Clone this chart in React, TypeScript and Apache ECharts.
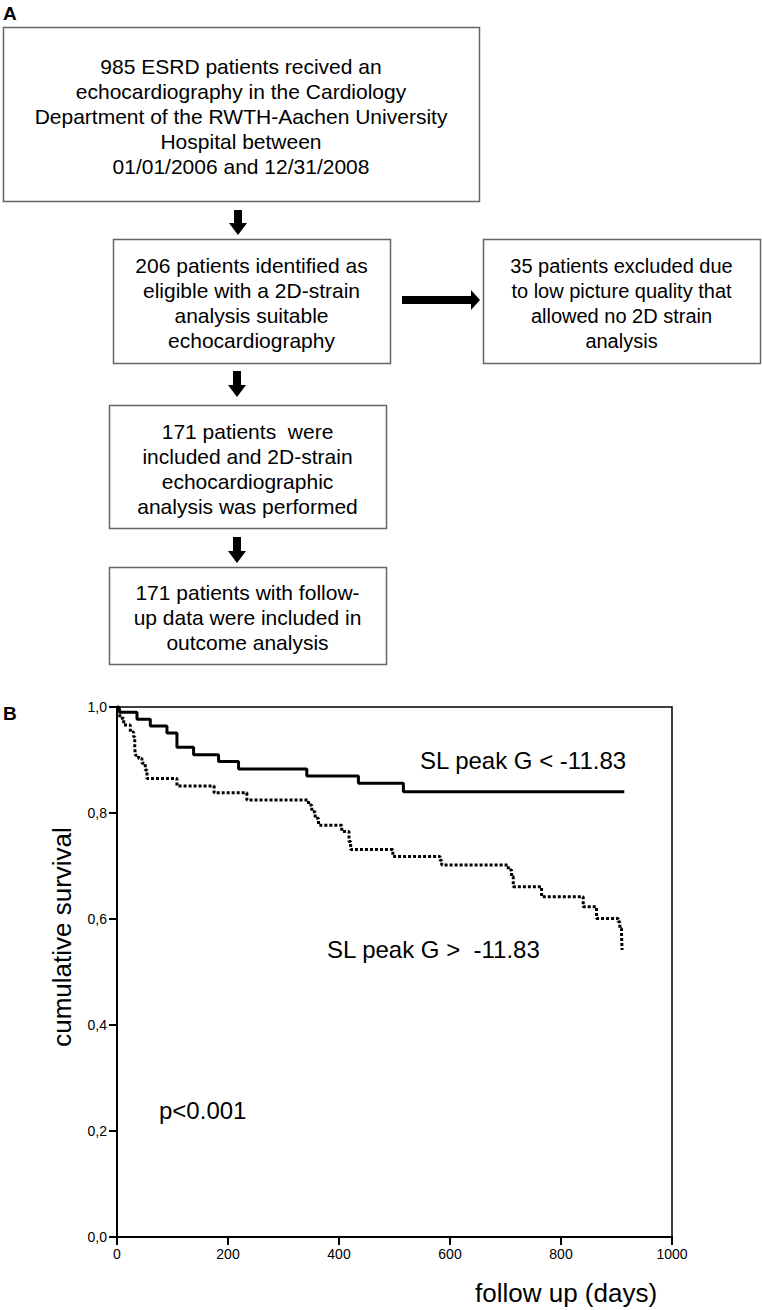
import React, { useEffect, useRef } from "react";
import * as echarts from "echarts";

// ---- Data ----
const xTicks = [0, 200, 400, 600, 800, 1000];
const yTicks = [0, 0.2, 0.4, 0.6, 0.8, 1.0];

// Kaplan-Meier steps: [day, survival]
const groupLowDays = [0, 4, 36, 60, 90, 108, 138, 183, 219, 342, 435, 516, 914];
const groupLowSurv = [1.0, 0.99, 0.977, 0.964, 0.951, 0.924, 0.91, 0.897, 0.883, 0.87, 0.856, 0.84, 0.84];

const groupHighDays = [0, 3, 5, 12, 24, 30, 32, 33, 39, 45, 51, 54, 108, 175, 234, 345, 351, 357, 363, 405, 418, 421, 497, 582, 585, 705, 711, 714, 765, 840, 864, 903, 906, 909, 910];
const groupHighSurv = [1.0, 0.994, 0.979, 0.966, 0.953, 0.944, 0.925, 0.909, 0.903, 0.894, 0.881, 0.865, 0.851, 0.838, 0.8245, 0.815, 0.8025, 0.79, 0.777, 0.765, 0.746, 0.731, 0.718, 0.711, 0.702, 0.6925, 0.68, 0.661, 0.642, 0.623, 0.601, 0.595, 0.582, 0.573, 0.5415];

const labelLow = "SL peak G < -11.83";
const labelHigh = "SL peak G >  -11.83";
const pValue = "p<0.001";
const yTitle = "cumulative survival";
const xTitle = "follow up (days)";

const box1Lines = ["985 ESRD patients recived an", "echocardiography in the Cardiology", "Department of the RWTH-Aachen University", "Hospital between", "01/01/2006 and 12/31/2008"];
const box2Lines = ["206 patients identified as", "eligible with a 2D-strain", "analysis suitable", "echocardiography"];
const box3Lines = ["35 patients excluded due", "to low picture quality that", "allowed no 2D strain", "analysis"];
const box4Lines = ["171 patients  were", "included and 2D-strain", "echocardiographic", "analysis was performed"];
const box5Lines = ["171 patients with follow-", "up data were included in", "outcome analysis"];

const FONT = "'Liberation Sans', Arial, Helvetica, sans-serif";

function boxEls(x: number, y: number, w: number, h: number, lines: string[], fs = 21) {
  return [
    {
      type: "rect",
      shape: { x: x + 0.5, y: y + 0.5, width: w, height: h },
      style: { fill: "#fff", stroke: "#666", lineWidth: 1.5 },
      z: 1,
    },
    {
      type: "text",
      x: x + w / 2,
      y: y + h / 2 + 2,
      style: {
        text: lines.join("\n"),
        font: `${fs}px ${FONT}`,
        lineHeight: 25,
        fill: "#000",
        align: "center",
        verticalAlign: "middle",
      },
      z: 2,
    },
  ];
}

function downArrow(cx: number, y0: number, y1: number) {
  const s = 4, hw = 9, hh = 12;
  return {
    type: "polygon",
    shape: {
      points: [
        [cx - s, y0], [cx + s, y0], [cx + s, y1 - hh], [cx + hw, y1 - hh],
        [cx, y1], [cx - hw, y1 - hh], [cx - s, y1 - hh],
      ],
    },
    style: { fill: "#000" },
  };
}

function rightArrow(cy: number, x0: number, x1: number) {
  const s = 4, hw = 10, hl = 9;
  return {
    type: "polygon",
    shape: {
      points: [
        [x0, cy - s], [x1 - hl, cy - s], [x1 - hl, cy - hw], [x1, cy],
        [x1 - hl, cy + hw], [x1 - hl, cy + s], [x0, cy + s],
      ],
    },
    style: { fill: "#000" },
  };
}

export default function App() {
  const ref = useRef<HTMLDivElement>(null);
  useEffect(() => {
    document.body.style.margin = "0";
    const chart = echarts.init(ref.current!, undefined, { renderer: "svg" });
    const low = groupLowDays.map((d, i) => [d, groupLowSurv[i]]);
    const high = groupHighDays.map((d, i) => [d, groupHighSurv[i]]);
    chart.setOption({
      animation: false,
      backgroundColor: "#fff",
      textStyle: { fontFamily: FONT },
      grid: {
        left: 117,
        top: 707,
        width: 555,
        height: 530,
        show: true,
        borderColor: "#000",
        borderWidth: 1.5,
        backgroundColor: "transparent",
      },
      xAxis: {
        type: "value",
        min: xTicks[0],
        max: xTicks[xTicks.length - 1],
        interval: 200,
        splitLine: { show: false },
        axisLine: { show: true, onZero: false, lineStyle: { color: "#000", width: 2 } },
        axisTick: { show: true, length: 8, lineStyle: { color: "#000", width: 2 } },
        axisLabel: {
          color: "#000",
          fontSize: 14,
          fontFamily: FONT,
          margin: 10,
          formatter: (v: number) => String(v),
        },
      },
      yAxis: {
        type: "value",
        min: yTicks[0],
        max: yTicks[yTicks.length - 1],
        interval: 0.2,
        splitLine: { show: false },
        axisLine: { show: true, onZero: false, lineStyle: { color: "#000", width: 2 } },
        axisTick: { show: true, length: 8, lineStyle: { color: "#000", width: 2 } },
        axisLabel: {
          color: "#000",
          fontSize: 14,
          fontFamily: FONT,
          margin: 10,
          formatter: (v: number) => v.toFixed(1).replace(".", ","),
        },
      },
      series: [
        {
          type: "line",
          name: labelLow,
          data: low,
          step: "end",
          showSymbol: false,
          lineStyle: { color: "#000", width: 3 },
          z: 3,
        },
        {
          type: "line",
          name: labelHigh,
          data: high,
          step: "end",
          showSymbol: false,
          lineStyle: { color: "#000", width: 3, type: [3, 2], cap: "butt" },
          z: 3,
        },
      ],
      graphic: [
        {
          type: "text",
          x: 3,
          y: 4,
          style: { text: "A", font: `bold 19px ${FONT}`, fill: "#000" },
        },
        {
          type: "text",
          x: 3,
          y: 713,
          style: { text: "B", font: `bold 19px ${FONT}`, fill: "#000", verticalAlign: "middle" },
        },
        ...boxEls(3, 27, 476, 174, box1Lines),
        downArrow(238, 210, 235),
        ...boxEls(113, 239, 277, 124, box2Lines),
        rightArrow(300, 402, 480),
        ...boxEls(483, 239, 277, 124, box3Lines, 20),
        downArrow(237, 371, 397),
        ...boxEls(109, 405, 277, 123, box4Lines),
        downArrow(237, 537, 563),
        ...boxEls(109, 567, 277, 97, box5Lines),
        {
          type: "text",
          x: 420,
          y: 760,
          style: { text: labelLow, font: `24px ${FONT}`, fill: "#000", verticalAlign: "middle" },
        },
        {
          type: "text",
          x: 327,
          y: 949,
          style: { text: labelHigh, font: `24px ${FONT}`, fill: "#000", verticalAlign: "middle" },
        },
        {
          type: "text",
          x: 159,
          y: 1110,
          style: { text: pValue, font: `24px ${FONT}`, fill: "#000", verticalAlign: "middle" },
        },
        {
          type: "text",
          x: 62,
          y: 937,
          rotation: Math.PI / 2,
          style: {
            text: yTitle,
            font: `26px ${FONT}`,
            fill: "#000",
            align: "center",
            verticalAlign: "middle",
          },
        },
        {
          type: "text",
          x: 566,
          y: 1293,
          style: {
            text: xTitle,
            font: `26px ${FONT}`,
            fill: "#000",
            align: "center",
            verticalAlign: "middle",
          },
        },
      ],
    });
    return () => chart.dispose();
  }, []);
  return <div ref={ref} style={{ width: 762, height: 1310, position: "absolute", left: 0, top: 0 }} />;
}
